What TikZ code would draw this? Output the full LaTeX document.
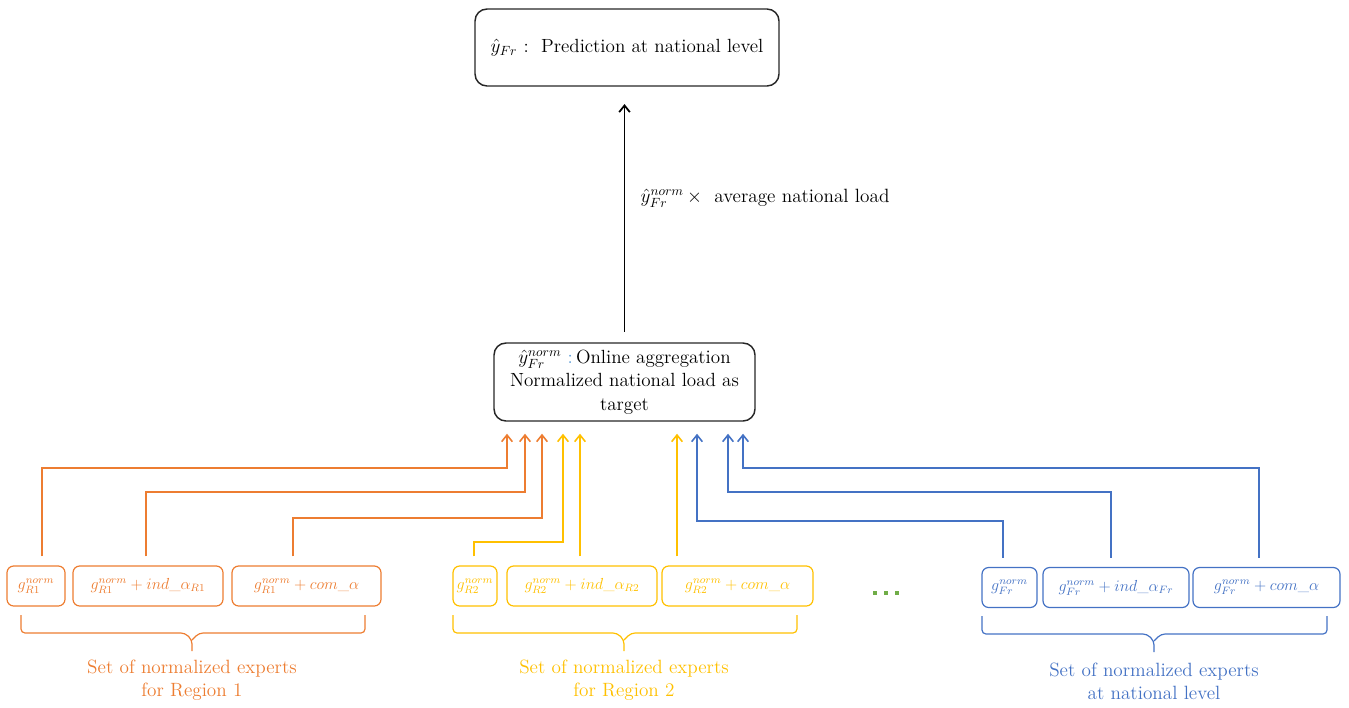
\documentclass[tikz,border=0pt]{standalone}
\usepackage{amsmath}
\usetikzlibrary{arrows.meta}
\definecolor{orng}{HTML}{ED7D31}
\definecolor{yel}{HTML}{FFC000}
\definecolor{blu}{HTML}{4472C4}
\definecolor{grn}{HTML}{70AD47}
\definecolor{lblu}{HTML}{5B9BD5}
\begin{document}
\begin{tikzpicture}[x=0.75pt,y=-0.75pt]
\tikzset{
  bigbox/.style={draw=black!85, line width=1.1pt, rounded corners=9pt, inner sep=0pt, align=center, font=\fontsize{14.3}{17.6}\selectfont},
  expbox/.style={draw, line width=0.9pt, rounded corners=5pt, inner sep=0pt, minimum height=30pt, font=\fontsize{11.5}{13}\selectfont},
  conn/.style={line width=1.2pt, -{Straight Barb[length=5pt,width=8pt]}, shorten <=6.75pt, shorten >=9pt},
  lbl/.style={align=center, font=\fontsize{14.4}{17.3}\selectfont},
  brace/.style={line width=0.9pt, rounded corners=3pt}
}
\useasboundingbox (0,0) rectangle (1349,707);
% top boxes
\node[bigbox, minimum width=228pt, minimum height=57.75pt] (top) at (627,47.5)
  {$\hat{y}_{Fr}$ :\ \ Prediction at national level};
\node[bigbox, minimum width=195.75pt, minimum height=58.5pt] (mid) at (624.5,382)
  {$\hat{y}^{norm}_{Fr}$\ {\color{lblu}:}\,Online aggregation\\Normalized national load as\\target};
\draw[line width=1.3pt, black, -{Straight Barb[length=5pt,width=8pt]}, shorten <=8pt, shorten >=13pt] (mid.north) -- (mid.north |- top.south);
\node[anchor=west, font=\fontsize{14.4}{16}\selectfont] (mlab) at (636,198) {$\hat{y}^{norm}_{Fr}\,\times$\ \ average national load};
% experts region 1
\begin{scope}[orng]
\node[expbox, minimum width=43.5pt] (o1) at (36,586) {$g_{R1}^{norm}$};
\node[expbox, minimum width=112.5pt] (o2) at (148,586) {$g_{R1}^{norm}+ind\_\alpha_{R1}$};
\node[expbox, minimum width=111.75pt] (o3) at (306.5,586) {$g_{R1}^{norm}+com\_\alpha$};
\draw[conn] (o1.north -| 42,0) -- (42,468) -- (507,468) -- (mid.south -| 507,0);
\draw[conn] (o2.north -| 146,0) -- (146,492) -- (525,492) -- (mid.south -| 525,0);
\draw[conn] (o3.north -| 293,0) -- (293,518) -- (542,518) -- (mid.south -| 542,0);
\draw[brace] (21,615) -- (21,633) -- (185,633) -- (192,640) -- (192,651);
\draw[brace] (192,640) -- (199,633) -- (365,633) -- (365,615);
\node[lbl, orng] (ol) at (192,680) {Set of normalized experts\\for Region 1};
\end{scope}
% experts region 2
\begin{scope}[yel]
\node[expbox, minimum width=33pt] (y1) at (475,586) {$g_{R2}^{norm}$};
\node[expbox, minimum width=112.5pt] (y2) at (582,586) {$g_{R2}^{norm}+ind\_\alpha_{R2}$};
\node[expbox, minimum width=113.25pt] (y3) at (737.5,586) {$g_{R2}^{norm}+com\_\alpha$};
\draw[conn] (y1.north -| 474,0) -- (474,542) -- (563,542) -- (mid.south -| 563,0);
\draw[conn] (y2.north -| 580,0) -- (mid.south -| 580,0);
\draw[conn] (y3.north -| 677,0) -- (mid.south -| 677,0);
\draw[brace] (453,615) -- (453,633) -- (617,633) -- (624,640) -- (624,651);
\draw[brace] (624,640) -- (631,633) -- (797,633) -- (797,615);
\node[lbl, yel] (yl) at (624,680) {Set of normalized experts\\for Region 2};
\end{scope}
% dots
\foreach \dx in {875,886,897}
  \fill[grn] (\dx-2,591) rectangle (\dx+2,595);
% experts national
\begin{scope}[blu]
\node[expbox, minimum width=41.25pt] (b1) at (1009.5,587.5) {$g_{Fr}^{norm}$};
\node[expbox, minimum width=109.5pt] (b2) at (1116,587.5) {$g_{Fr}^{norm}+ind\_\alpha_{Fr}$};
\node[expbox, minimum width=110.25pt] (b3) at (1266.5,587.5) {$g_{Fr}^{norm}+com\_\alpha$};
\draw[conn] (b1.north -| 1003,0) -- (1003,521) -- (697,521) -- (mid.south -| 697,0);
\draw[conn] (b2.north -| 1111,0) -- (1111,492) -- (728,492) -- (mid.south -| 728,0);
\draw[conn] (b3.north -| 1259,0) -- (1259,468) -- (743,468) -- (mid.south -| 743,0);
\draw[brace] (982,616) -- (982,634) -- (1147,634) -- (1154,641) -- (1154,652);
\draw[brace] (1154,641) -- (1161,634) -- (1327,634) -- (1327,616);
\node[lbl, blu] (bl) at (1154,681) {Set of normalized experts\\at national level};
\end{scope}
\end{tikzpicture}
\end{document}
